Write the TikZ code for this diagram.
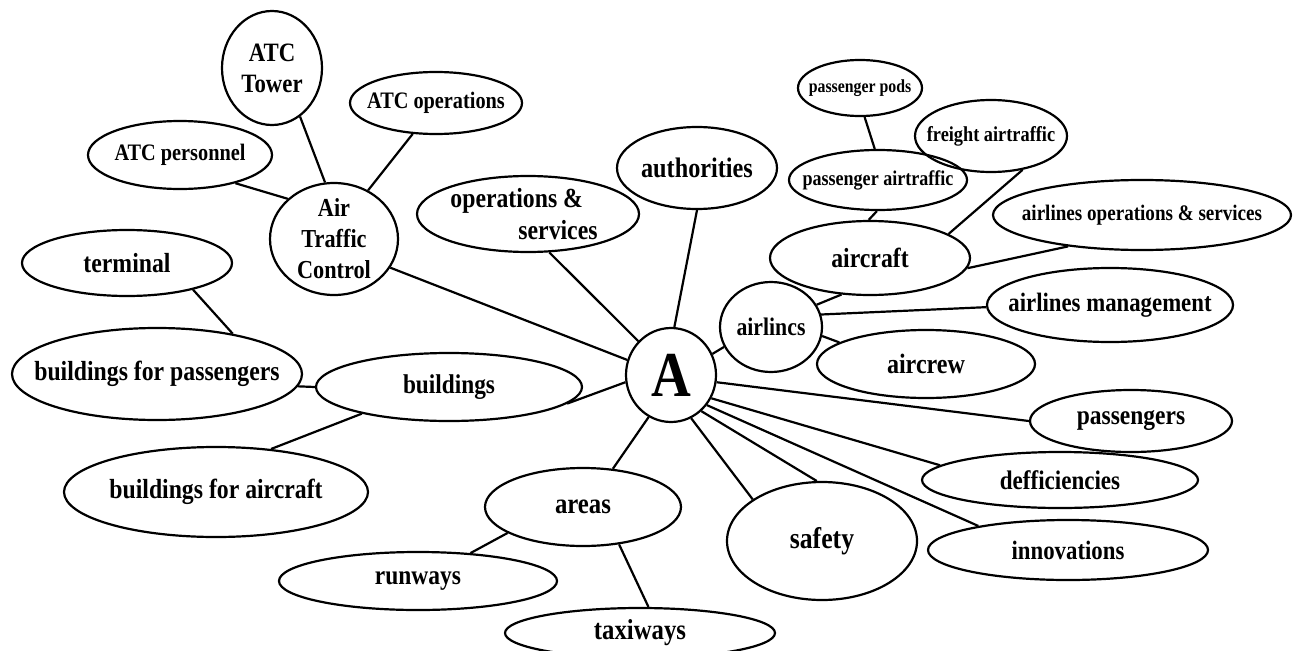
\documentclass[tikz,border=0pt]{standalone}
\usepackage{fontspec}
\setmainfont{Liberation Serif}[FakeStretch=0.86]
\usetikzlibrary{shapes.geometric}
\tikzset{
  ell/.style={draw, shape=ellipse, line width=2.2pt, inner sep=0pt},
  tx/.style={align=center, inner sep=0pt},
  conn/.style={line width=2.2pt}
}
\newcommand\bub[7]{\node[ell, minimum width=#4pt, minimum height=#5pt,
  label={[tx, font=\fontsize{#6}{31}\selectfont\bfseries]center:{#7}}] (#1) at (#2,#3) {};}
\begin{document}
\begin{tikzpicture}[x=1pt, y=-1pt]
\useasboundingbox (0,0) rectangle (1297,650);
% ATC cluster
\bub{tower}{272}{68}{100}{114}{26.5}{ATC\\Tower}
\bub{atcops}{436}{103}{172}{62}{23.6}{ATC operations}
\bub{atcpers}{180}{155}{184}{68}{23.6}{ATC personnel}
\bub{atc}{334}{239}{128}{112}{25.9}{Air\\Traffic\\Control}
% center
\bub{A}{671}{375}{90}{94}{64}{A}
\node[ell, minimum width=222pt, minimum height=76pt,
  label={[tx, align=left, xshift=-4pt, font=\fontsize{27.6}{32}\selectfont\bfseries]center:{operations \&\\\hspace*{68pt}services}}] (opsserv) at (528,214) {};
\bub{auth}{697}{168}{160}{82}{28.2}{authorities}
% aircraft cluster
\bub{pods}{860}{88}{124}{56}{18.4}{passenger pods}
\bub{freight}{991}{136}{152}{72}{21.3}{freight airtraffic}
\bub{paxair}{878}{180}{178}{60}{21}{passenger airtraffic}
\bub{aircraft}{870}{258}{200}{74}{27.6}{aircraft}
\bub{aops}{1142}{215}{298}{70}{22.2}{airlines operations \& services}
\bub{amgmt}{1110}{305}{246}{74}{26.5}{airlines management}
\bub{airl}{771}{327}{102}{90}{25.3}{airlincs}
\bub{aircrew}{926}{364}{218}{68}{28}{aircrew}
% right lower
\bub{pax}{1131}{421}{202}{62}{27.3}{passengers}
\bub{deff}{1060}{480}{276}{56}{26.8}{defficiencies}
\bub{innov}{1068}{550}{280}{60}{26.5}{innovations}
\bub{safety}{822}{541}{190}{118}{29.9}{safety}
% areas
\bub{areas}{583}{507}{196}{78}{28.8}{areas}
\bub{taxi}{640}{633}{270}{50}{28.8}{taxiways}
\bub{runways}{418}{581}{278}{58}{27.3}{runways}
% buildings
\bub{bfa}{216}{492}{304}{90}{27.6}{buildings for aircraft}
\bub{bfp}{157}{374}{290}{92}{27.6}{buildings for passengers}
\bub{buildings}{449}{387}{266}{68}{27.1}{buildings}
\bub{terminal}{127}{263}{210}{66}{27.6}{terminal}
% connectors
\draw[conn] (tower.-60) -- (atc.99);
\draw[conn] (atcops.-127) -- (atc.55);
\draw[conn] (atcpers.-27) -- (atc.139);
\draw[conn] (atc.-27) -- (A.161);
\draw[conn] (opsserv.-61) -- (A.134);
\draw[conn] (auth.-90) -- (A.86);
\draw[conn] (buildings.-8) -- (A.-171);
\draw[conn] (A.-118) -- (areas.52);
\draw[conn] (areas.-161) -- (runways.28);
\draw[conn] (areas.-46) -- (taxi.72);
\draw[conn] (A.-65) -- (safety.149);
\draw[conn] (A.-50) -- (safety.95);
\draw[conn] (A.-40) -- (innov.165);
\draw[conn] (A.-30) -- (deff.173);
\draw[conn] (A.-9) -- (pax.180);
\draw[conn] (A.27) -- (airl.-157);
\draw[conn] (airl.26) -- (aircraft.-128);
\draw[conn] (airl.14) -- (amgmt.-179);
\draw[conn] (airl.-10) -- (aircrew.166);
\draw[conn] (aircraft.-6) -- (aops.-157);
\draw[conn] (aircraft.17) -- (freight.-47);
\draw[conn] (aircraft.92) -- (paxair.-92);
\draw[conn] (paxair.96) -- (pods.-81);
\draw[conn] (terminal.-22) -- (bfp.28);
\draw[conn] (bfp.-5) -- (buildings.180);
\draw[conn] (buildings.-163) -- (bfa.38);
\end{tikzpicture}
\end{document}
